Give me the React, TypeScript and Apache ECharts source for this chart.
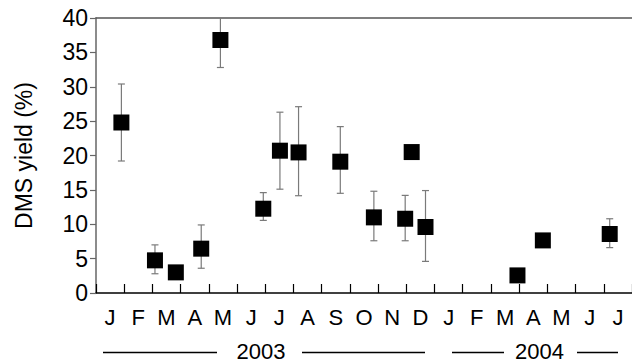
import React, { useEffect, useRef } from "react";
import * as echarts from "echarts";

// Sampling dates, in months since 1 Jan 2003
const monthPos = [0.9, 2.09, 2.83, 3.73, 4.41, 5.93, 6.52, 7.18, 8.66, 9.85, 10.96, 11.19, 11.68, 14.94, 15.84, 18.21];
// Mean DMS yield (%)
const yieldMean = [24.8, 4.75, 3.0, 6.45, 36.8, 12.26, 20.7, 20.45, 19.1, 11.0, 10.8, 20.5, 9.6, 2.56, 7.65, 8.58];
// Error bar limits (null where no bar is drawn)
const errLow: (number | null)[] = [19.2, 2.8, null, 3.6, 32.8, 10.56, 15.1, 14.15, 14.5, 7.6, 7.6, null, 4.6, null, null, 6.6];
const errHigh: (number | null)[] = [30.4, 7.0, null, 9.9, 41, 14.6, 26.3, 27.1, 24.2, 14.8, 14.2, null, 14.9, null, null, 10.8];

const monthLabels = ["J", "F", "M", "A", "M", "J", "J", "A", "S", "O", "N", "D", "J", "F", "M", "A", "M", "J", "J"];
const yTicks = { min: 0, max: 40, interval: 5 };

const FONT = "Liberation Sans, Arial, Helvetica, sans-serif";

export default function App() {
  const ref = useRef<HTMLDivElement>(null);

  useEffect(() => {
    document.body.style.margin = "0";
    if (!ref.current) return;
    const chart = echarts.init(ref.current, undefined, { renderer: "svg" });

    const points = monthPos.map((x, i) => [x, yieldMean[i]]);
    const bars = monthPos
      .map((x, i) => [x, errLow[i], errHigh[i]])
      .filter((d) => d[1] !== null && d[2] !== null);

    const yearText = (text: string, x: number) => ({
      type: "text",
      x,
      y: 351,
      style: {
        text,
        fontSize: 22,
        lineHeight: 20,
        fontFamily: FONT,
        fill: "#000",
        textAlign: "center",
        textVerticalAlign: "middle",
      },
    });
    const yearLine = (x1: number, x2: number) => ({
      type: "line",
      shape: { x1, y1: 352.5, x2, y2: 352.5 },
      style: { stroke: "#000", lineWidth: 1.5 },
    });

    chart.setOption({
      animation: false,
      textStyle: { fontFamily: FONT },
      grid: { left: 96, top: 18, height: 275, width: 541.5 },
      xAxis: [
        {
          type: "value",
          min: 0,
          max: monthLabels.length,
          interval: 1,
          axisLine: { show: true, lineStyle: { color: "#000", width: 1.5 } },
          axisTick: { show: true, inside: true, length: 9, lineStyle: { color: "#000", width: 1.2 } },
          axisLabel: { show: false },
          splitLine: { show: false },
        },
        {
          type: "category",
          data: monthLabels,
          boundaryGap: true,
          position: "bottom",
          axisLine: { show: false },
          axisTick: { show: false },
          axisLabel: { color: "#000", fontSize: 22, fontFamily: FONT, margin: 13, interval: 0 },
        },
        {
          type: "value",
          position: "top",
          min: 0,
          max: monthLabels.length,
          axisLine: { show: true, lineStyle: { color: "#555", width: 1.5 } },
          axisTick: { show: false },
          axisLabel: { show: false },
          splitLine: { show: false },
        },
      ],
      yAxis: {
        type: "value",
        min: yTicks.min,
        max: yTicks.max,
        interval: yTicks.interval,
        name: "DMS yield (%)",
        nameLocation: "middle",
        nameGap: 61,
        nameTextStyle: { color: "#000", fontSize: 23, fontFamily: FONT },
        axisLine: { show: true, lineStyle: { color: "#666", width: 1.5 } },
        axisTick: { show: true, length: 6, lineStyle: { color: "#666", width: 1.2 } },
        axisLabel: { color: "#000", fontSize: 23, fontFamily: FONT, margin: 8 },
        splitLine: { show: false },
      },
      series: [
        {
          type: "custom",
          xAxisIndex: 0,
          data: bars,
          renderItem: (params: any, api: any) => {
            const x = api.value(0);
            const lo = api.value(1);
            let hi = api.value(2);
            const clipped = hi > yTicks.max;
            if (clipped) hi = yTicks.max;
            const pLo = api.coord([x, lo]);
            const pHi = api.coord([x, hi]);
            const cap = 3.5;
            const style = { stroke: "#7a7a7a", lineWidth: 1.2 };
            const children: any[] = [
              { type: "line", shape: { x1: pLo[0], y1: pLo[1], x2: pHi[0], y2: pHi[1] }, style },
              { type: "line", shape: { x1: pLo[0] - cap, y1: pLo[1], x2: pLo[0] + cap, y2: pLo[1] }, style },
            ];
            if (!clipped) {
              children.push({ type: "line", shape: { x1: pHi[0] - cap, y1: pHi[1], x2: pHi[0] + cap, y2: pHi[1] }, style });
            }
            return { type: "group", children };
          },
          z: 2,
        },
        {
          type: "scatter",
          xAxisIndex: 0,
          data: points,
          symbol: "rect",
          symbolSize: 16,
          itemStyle: { color: "#000", opacity: 1 },
          z: 3,
        },
      ],
      graphic: [
        yearLine(103, 217),
        yearText("2003", 261),
        yearLine(302, 425),
        yearLine(452, 504),
        yearText("2004", 539.5),
        yearLine(577, 618),
      ],
    });

    return () => chart.dispose();
  }, []);

  return <div ref={ref} style={{ width: 632, height: 363 }} />;
}
